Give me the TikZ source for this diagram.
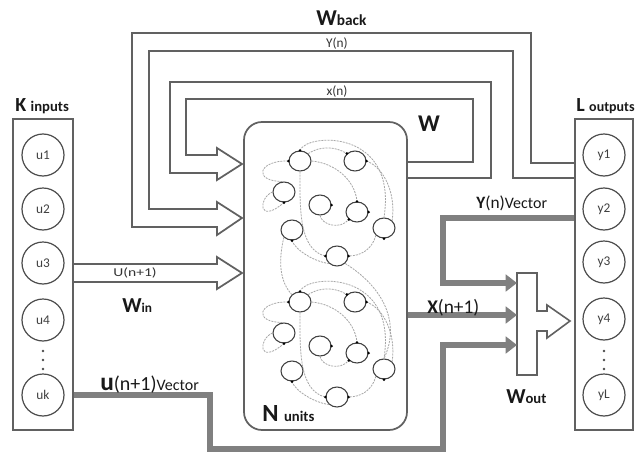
\documentclass[tikz,border=0pt]{standalone}
\usepackage{fontspec}
\setmainfont{Carlito}
\usetikzlibrary{shapes.geometric,arrows.meta,calc}
\newcommand\fs[1]{\fontsize{#1}{#1}\selectfont}
\tikzset{
  frame/.style={draw=black!62, line width=1.3pt},
  band/.style={draw=black!62, line width=1.3pt, line join=miter},
  unit/.style={circle, draw=black!70, line width=0.9pt, minimum size=31.5pt, inner sep=0pt, font=\fs{10}, text=black!75},
  vecline/.style={draw=black!50, line width=4.5pt, line join=miter, -{Triangle[length=8.5pt,width=12.5pt]}},
  neuron/.style={ellipse, draw=black!75, line width=0.8pt, minimum width=16.5pt, minimum height=15pt, inner sep=0pt},
  syn/.style={draw=black!35, line width=0.6pt, dash pattern=on 1.5pt off 0.8pt},
  lbl/.style={inner sep=0pt, font=\bfseries, text=black!90},
  small/.style={inner sep=0pt, text=black!80},
}
\newcommand\tk[1]{\fill[black] (#1) circle (1.1pt);}
\newcommand\resnet[2]{%
\begin{scope}[shift={(0,#2)}]
\node[neuron] (#1A) at (300,161) {};
\node[neuron] (#1B) at (355,161) {};
\node[neuron] (#1C) at (284,192) {};
\node[neuron] (#1D) at (320,205) {};
\node[neuron] (#1E) at (357,212) {};
\node[neuron] (#1F) at (384,228) {};
\node[neuron] (#1G) at (292,230) {};
\node[neuron] (#1H) at (337,256) {};
\draw[syn] (#1A.north) .. controls (306,133) and (398,128) .. (#1F.north);
\draw[syn] (#1A.north east) .. controls (320,146) and (335,146) .. (#1B.north west);
\draw[syn] (#1B.east) .. controls (385,168) and (396,195) .. (#1F.north east);
\draw[syn] (#1A.east) .. controls (335,163) and (355,180) .. (#1E.north);
\draw[syn] (#1A.south) .. controls (300,205) and (298,250) .. (#1H.west);
\draw[syn] (#1A.west) .. controls (258,160) and (252,182) .. (#1C.north);
\draw[syn] (#1C.west) .. controls (258,198) and (258,225) .. (#1C.south);
\draw[syn] (#1D.south) .. controls (322,225) and (340,230) .. (#1E.south west);
\draw[syn] (#1F.south west) .. controls (372,250) and (360,256) .. (#1H.east);
\draw[syn] (#1G.south) .. controls (295,250) and (315,262) .. (#1H.south west);
\tk{#1A.north}\tk{#1A.west}
\tk{#1B.north west}\tk{#1B.east}
\tk{#1C.south}\tk{#1D.east}
\tk{#1E.north}\tk{#1E.east}\tk{#1E.south west}
\tk{#1F.south}\tk{#1G.south}
\tk{#1H.west}\tk{#1H.east}
\end{scope}}
\begin{document}
\begin{tikzpicture}[x=0.75pt,y=-0.75pt]
\useasboundingbox (0,0) rectangle (640,457);
\fill[white] (0,0) rectangle (640,457);

% boxes
\node[frame, minimum width=45pt, minimum height=233.25pt, inner sep=0pt] (Kbox) at (43,274.5) {};
\node[frame, minimum width=43.5pt, minimum height=233.25pt, inner sep=0pt] (Lbox) at (604,274.5) {};
\node[frame, rounded corners=13.5pt, minimum width=122.25pt, minimum height=231pt, inner sep=0pt] (res) at (325.5,276) {};

% input units
\node[unit] (u1) at (43,155) {u1};
\node[unit] (u2) at (43,209) {u2};
\node[unit] (u3) at (43,263) {u3};
\node[unit] (u4) at (43,320) {u4};
\node[unit] (uk) at (43,395) {uk};
\foreach \yy in {351,360,369} \fill[black!70] (43,\yy) circle (1pt);
% output units
\node[unit] (y1) at (604,155) {y1};
\node[unit] (y2) at (604,209) {y2};
\node[unit] (y3) at (604,262) {y3};
\node[unit] (y4) at (604,319) {y4};
\node[unit] (yL) at (604,395) {yL};
\foreach \yy in {351,360,369} \fill[black!70] (604,\yy) circle (1pt);

% reservoir contents
\resnet{t}{0}
\resnet{b}{141}
\draw[syn] (tG.south west) .. controls (278,262) and (280,282) .. (bA.north west);
\draw[syn] (tH.south east) .. controls (380,285) and (402,320) .. (bF.north);

% Wout shape
\coordinate (wo) at (517,273);
\draw[band, line width=1.2pt] (wo) -- (537,273) -- (537,311) -- (547,311) -- (547,305) -- (570,321)
  -- (547,338) -- (547,331) -- (537,331) -- (537,375) -- (517,375) -- cycle;

% x(n) feedback band (W)
\draw[band] ($(res.east)+(0,-114)$) coordinate (xa) -- (473,162) -- (473,99) -- (186,99) -- (186,155) -- (217,155)
  -- (217,148) -- (242,164) -- (217,180) -- (217,173) -- (170,173) -- (170,82) -- (491,82) -- (491,178) -- (407,178);
% Wback band
\draw[band] (Lbox.west |- 0,163) -- (531,163) -- (531,33) -- (132,33) -- (132,227) -- (217,227)
  -- (217,235) -- (242,218) -- (217,202) -- (217,209) -- (149,209) -- (149,51) -- (513,51) -- (513,178) -- (Lbox.west |- 0,178);
% Win band
\draw[band] (Kbox.east |- 0,264) -- (217,264) -- (217,257) -- (242,273) -- (217,289) -- (217,282) -- (Kbox.east |- 0,282);

% vector paths
\draw[vecline] (Kbox.east |- uk) -- (210,395) -- (210,449) -- (443,449) -- (443,345) -- (wo |- 0,345);
\draw[vecline] (Lbox.west |- 0,218) -- (443,218) -- (443,283) -- (wo |- 0,283);
\draw[vecline] (res.east |- 0,315) -- (wo |- 0,315);

% labels
\node[lbl, anchor=base west] (Klbl) at (15,111) {\fs{15}K \fs{11}inputs};
\node[lbl, anchor=base west] (Llbl) at (576,111) {\fs{15}L \fs{10.5}outputs};
\node[lbl, anchor=base west] (Wbk) at (316,25) {\fs{17}W\fs{11.5}back};
\node[small, anchor=base] (Yn) at (337,47) {\fs{10}Y(n)};
\node[small, anchor=base] (xn) at (337,95) {\fs{10}x(n)};
\node[lbl, anchor=center] (Wlbl) at (429,124) {\fs{18}W};
\node[small, anchor=base, xscale=1.3] (Un) at (135,276) {\fs{9}U(n+1)};
\node[lbl, anchor=base west] (Win) at (122,312) {\fs{16}W\fs{10}in};
\node[lbl, anchor=base west] (Nu) at (262,421) {\fs{18.5}N \fs{11}units};
\node[lbl, anchor=base west] (Wout) at (506,403) {\fs{16}W\fs{11}out};
\node[lbl, anchor=base west] (Xn) at (427,313) {\fs{14.5}X\mdseries(n+1)};
\node[lbl, anchor=base west] (Yv) at (476,208) {\fs{13}Y\mdseries(n)\fs{12}Vector};
\node[lbl, anchor=base west] (uv) at (100,390) {\fs{19}u\mdseries\fs{15}(n+1)\fs{12}Vector};
\end{tikzpicture}
\end{document}
